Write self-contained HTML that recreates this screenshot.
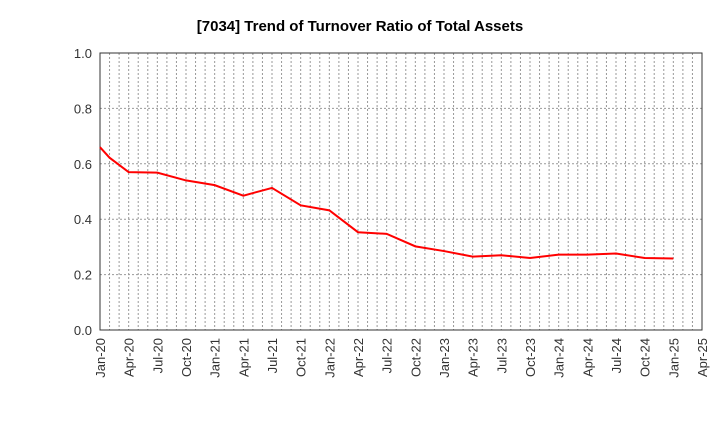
<!DOCTYPE html>
<html><head><meta charset="utf-8"><style>
body{margin:0;background:#fff;font-family:"Liberation Sans",sans-serif}
</style></head><body>
<svg id="c" width="720" height="440" xmlns="http://www.w3.org/2000/svg">
<text x="360" y="31" text-anchor="middle" font-size="15" font-weight="bold">[7034]  Trend of Turnover Ratio of Total Assets</text>
</svg>
<script>
const months=[0,1,3,6,9,12,15,18,21,24,27,30,33,36,39,42,45,48,51,54,57,60];
const values=[0.66,0.622,0.57,0.568,0.54,0.523,0.485,0.513,0.45,0.432,0.353,0.347,0.302,0.285,0.265,0.27,0.26,0.272,0.272,0.276,0.26,0.258];
const yTicks=[0,0.2,0.4,0.6,0.8,1.0];
const xLabels=["Jan-20","Apr-20","Jul-20","Oct-20","Jan-21","Apr-21","Jul-21","Oct-21","Jan-22","Apr-22","Jul-22","Oct-22","Jan-23","Apr-23","Jul-23","Oct-23","Jan-24","Apr-24","Jul-24","Oct-24","Jan-25","Apr-25"];
const svg=document.getElementById('c'),NS="http://www.w3.org/2000/svg";
const X0=100,X1=702,Y0=330,Y1=53,NM=63;
const x=m=>X0+(X1-X0)*m/NM, y=v=>Y0-(Y0-Y1)*v;
function mk(t,a){const e=document.createElementNS(NS,t);for(const k in a)e.setAttribute(k,a[k]);svg.appendChild(e);return e;}
for(let m=1;m<NM;m++){const e=mk('line',{x1:x(m),x2:x(m),y1:Y1,y2:Y0,stroke:'#999','stroke-dasharray':'2,2','stroke-width':1});

}
yTicks.forEach(v=>{const g=mk('line',{x1:X0,x2:X1,y1:y(v),y2:y(v),stroke:'#999','stroke-dasharray':'2,2'});


const t=mk('text',{x:X0-8,y:y(v)+5,'text-anchor':'end','font-size':13,fill:'#333'});t.textContent=v.toFixed(1);

});
xLabels.forEach((l,i)=>{const px=x(i*3),t=mk('text',{transform:`translate(${px+5},${Y0+8}) rotate(-90)`,'text-anchor':'end','font-size':13,fill:'#333'});t.textContent=l;

});
const fr=mk('rect',{x:X0,y:Y1,width:X1-X0,height:Y0-Y1,fill:'none',stroke:'#333'});


const p=mk('polyline',{points:months.map((m,i)=>x(m)+','+y(values[i])).join(' '),fill:'none',stroke:'#f00','stroke-width':2});


</script>
</body></html>
